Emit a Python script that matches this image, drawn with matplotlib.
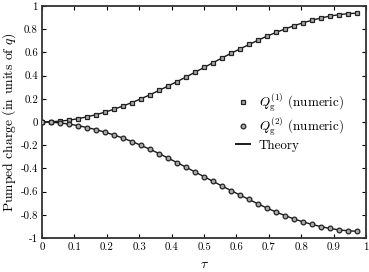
import matplotlib
matplotlib.use("Agg")
import matplotlib.pyplot as plt

plt.rcParams['font.family'] = 'cmr10'
plt.rcParams['mathtext.fontset'] = 'cm'
plt.rcParams['axes.unicode_minus'] = False
plt.rcParams['axes.formatter.use_mathtext'] = True

# tau sampled every 1/36
tau = [k / 36 for k in range(36)]

q1_numeric = [0.000, 0.002, 0.007, 0.016, 0.028, 0.045, 0.063, 0.085, 0.110, 0.138,
              0.168, 0.200, 0.235, 0.272, 0.310, 0.348, 0.388, 0.429, 0.470, 0.511,
              0.552, 0.592, 0.630, 0.668, 0.705, 0.740, 0.772, 0.802, 0.830, 0.855,
              0.877, 0.897, 0.913, 0.925, 0.934, 0.938]
q2_numeric = [0.000, -0.002, -0.008, -0.018, -0.031, -0.048, -0.066, -0.088, -0.112, -0.139,
              -0.169, -0.201, -0.236, -0.272, -0.311, -0.350, -0.390, -0.431, -0.471, -0.512,
              -0.552, -0.591, -0.630, -0.668, -0.706, -0.742, -0.776, -0.807, -0.836, -0.861,
              -0.883, -0.902, -0.918, -0.930, -0.938, -0.942]
theory_up = q1_numeric
theory_down = q2_numeric

fig = plt.figure(figsize=(3.69, 2.72), dpi=100)
ax = fig.add_axes([0.114, 0.125, 0.878, 0.853])

ax.plot(tau, theory_up, color='#1a1a1a', lw=1.0, zorder=2)
ax.plot(tau, theory_down, color='#1a1a1a', lw=1.0, zorder=2)
ax.plot(tau, q1_numeric, ls='none', marker='s', ms=3.2, mfc='#aaaaaa', mec='#222222', mew=0.9,
        label=r'$Q_\mathrm{g}^{(1)}$ (numeric)', zorder=3)
ax.plot(tau, q2_numeric, ls='none', marker='o', ms=3.4, mfc='#aaaaaa', mec='#222222', mew=0.9,
        label=r'$Q_\mathrm{g}^{(2)}$ (numeric)', zorder=3)
ax.plot([], [], color='#1a1a1a', lw=1.4, label='Theory')

ax.set_xlim(0, 1)
ax.set_ylim(-1, 1)
ax.set_xticks([i / 10 for i in range(11)])
ax.set_xticklabels(['0', '0.1', '0.2', '0.3', '0.4', '0.5', '0.6', '0.7', '0.8', '0.9', '1'])
ax.set_yticks([-1, -0.8, -0.6, -0.4, -0.2, 0, 0.2, 0.4, 0.6, 0.8, 1])
ax.set_yticklabels(['-1', '-0.8', '-0.6', '-0.4', '-0.2', '0', '0.2', '0.4', '0.6', '0.8', '1'])
ax.tick_params(direction='in', top=True, right=True, length=3, width=0.8, labelsize=7.8, pad=3)
for s in ax.spines.values():
    s.set_linewidth(1.3)
    s.set_color('#333333')

ax.set_xlabel(r'$\tau$', fontsize=10, labelpad=5)
ax.set_ylabel(r'Pumped charge (in units of $q$)', fontsize=9.8, labelpad=2)

ax.legend(loc='upper left', bbox_to_anchor=(0.60, 0.63), frameon=False, fontsize=9.4,
          handlelength=1.0, handletextpad=0.7, borderpad=0.0, borderaxespad=0.0,
          labelspacing=0.12, markerscale=1.0)

fig.savefig('out.png', dpi=100)
